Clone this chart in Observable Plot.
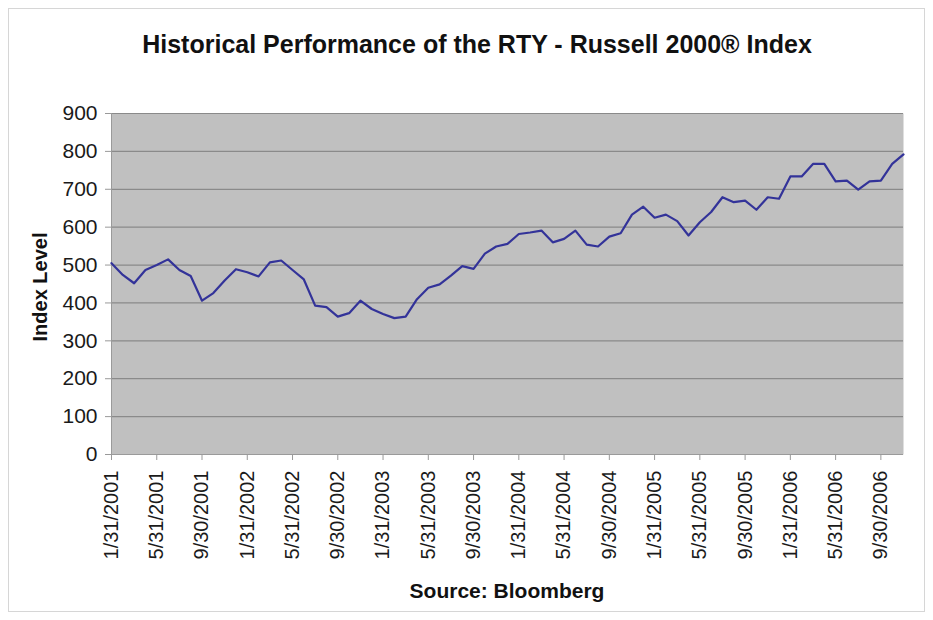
<!DOCTYPE html>
<html><head><meta charset="utf-8">
<script src="https://cdn.jsdelivr.net/npm/d3@7"></script>
<script src="https://cdn.jsdelivr.net/npm/@observablehq/plot@0.6"></script>
<style>
body{margin:0;background:#fff;font-family:"Liberation Sans",Arial,sans-serif;}
#wrap{position:relative;width:933px;height:620px;overflow:hidden;}
#border{position:absolute;left:8px;top:8px;width:917px;height:604px;border:1px solid #d6d6d6;box-sizing:border-box;}
#title{position:absolute;left:477px;top:30px;transform:translateX(-50%);white-space:nowrap;font-weight:bold;font-size:25px;color:#111;}
#ylab{position:absolute;left:40px;top:287px;transform:translate(-50%,-50%) rotate(-90deg);white-space:nowrap;font-weight:bold;font-size:20px;color:#111;}
#caption{position:absolute;left:507px;top:579px;transform:translateX(-50%);white-space:nowrap;font-weight:bold;font-size:21px;color:#111;}
#chart{position:absolute;left:0;top:80px;}
</style></head>
<body>
<div id="wrap">
<div id="border"></div>
<div id="title">Historical Performance of the RTY - Russell 2000® Index</div>
<div id="chart"></div>
<div id="ylab">Index Level</div>
<div id="caption">Source: Bloomberg</div>
</div>
<script>
const dates = [
"1/31/2001","2/28/2001","3/31/2001","4/30/2001","5/31/2001","6/30/2001","7/31/2001","8/31/2001","9/30/2001","10/31/2001","11/30/2001","12/31/2001",
"1/31/2002","2/28/2002","3/31/2002","4/30/2002","5/31/2002","6/30/2002","7/31/2002","8/31/2002","9/30/2002","10/31/2002","11/30/2002","12/31/2002",
"1/31/2003","2/28/2003","3/31/2003","4/30/2003","5/31/2003","6/30/2003","7/31/2003","8/31/2003","9/30/2003","10/31/2003","11/30/2003","12/31/2003",
"1/31/2004","2/29/2004","3/31/2004","4/30/2004","5/31/2004","6/30/2004","7/31/2004","8/31/2004","9/30/2004","10/31/2004","11/30/2004","12/31/2004",
"1/31/2005","2/28/2005","3/31/2005","4/30/2005","5/31/2005","6/30/2005","7/31/2005","8/31/2005","9/30/2005","10/31/2005","11/30/2005","12/31/2005",
"1/31/2006","2/28/2006","3/31/2006","4/30/2006","5/31/2006","6/30/2006","7/31/2006","8/31/2006","9/30/2006","10/31/2006","11/30/2006"
];
const values = [
505,474,452,487,500,515,487,471,406,426,459,489,
481,470,507,512,487,462,393,389,364,373,406,384,
371,360,364,410,440,449,472,497,490,530,549,556,
582,586,591,560,569,591,554,549,575,584,633,654,
625,633,616,578,613,640,679,666,670,646,679,675,
734,734,767,767,721,723,699,721,723,767,792
];
const xTickLabels = ["1/31/2001","5/31/2001","9/30/2001","1/31/2002","5/31/2002","9/30/2002","1/31/2003","5/31/2003","9/30/2003","1/31/2004","5/31/2004","9/30/2004","1/31/2005","5/31/2005","9/30/2005","1/31/2006","5/31/2006","9/30/2006"];
const yTicks = [0,100,200,300,400,500,600,700,800,900];

const data = dates.map((d, i) => ({i, date: d, value: values[i]}));
const xTickIdx = xTickLabels.map(l => dates.indexOf(l));

const chart = Plot.plot({
  width: 933,
  height: 490,
  marginLeft: 111,
  marginRight: 30,
  marginTop: 33,
  marginBottom: 116,
  style: {fontFamily: '"Liberation Sans", Arial, sans-serif', fontSize: "20px", background: "transparent", color: "#1a1a1a"},
  x: {type: "linear", domain: [0, dates.length - 1]},
  y: {domain: [0, 900]},
  marks: [
    Plot.frame({fill: "#c0c0c0", stroke: null}),
    Plot.ruleY(yTicks.slice(1), {stroke: "#8a8a8a", strokeWidth: 1.2}),
    Plot.ruleY([0], {stroke: "#9a9a9a"}),
    Plot.ruleX([0], {stroke: "#9a9a9a"}),
    Plot.line(data, {x: "i", y: "value", stroke: "#333399", strokeWidth: 2.2}),
    Plot.axisY({ticks: yTicks, tickSize: 6, tickPadding: 8, label: null, stroke: "#999", fill: "#1a1a1a", fontSize: 21}),
    Plot.axisX({ticks: xTickIdx, tickFormat: i => dates[i], tickSize: 6, tickPadding: 10, tickRotate: -90, label: null, stroke: "#999", fill: "#1a1a1a", fontSize: 20})
  ]
});
document.getElementById("chart").appendChild(chart);
</script>
</body></html>
